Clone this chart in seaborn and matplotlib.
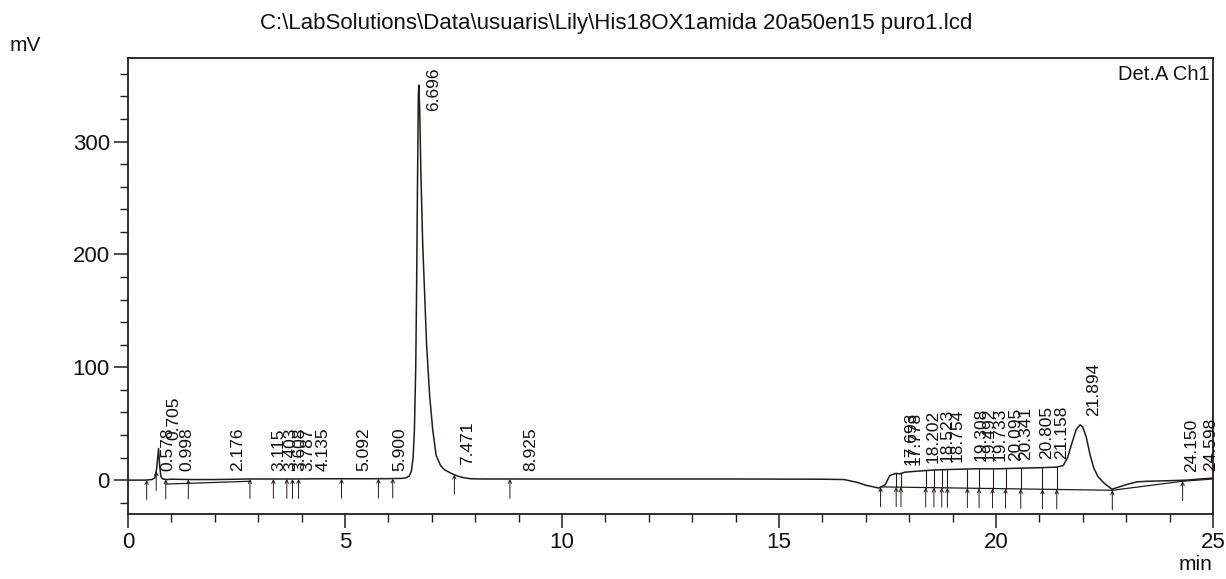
import numpy as np
import pandas as pd
import matplotlib
matplotlib.use("Agg")
import matplotlib.pyplot as plt
from matplotlib.ticker import MultipleLocator
import seaborn as sns

# Detector trace (min, mV)
time_min = [0.0, 0.40, 0.55, 0.62, 0.66, 0.705, 0.73, 0.76, 0.80, 0.90, 1.00, 1.50, 2.00,
            2.80, 3.30, 3.80, 4.50, 5.00, 5.50, 6.00, 6.30, 6.40, 6.48, 6.53, 6.57, 6.60,
            6.63, 6.65, 6.67, 6.69, 6.70, 6.72, 6.75, 6.79, 6.83, 6.88, 6.95, 7.02, 7.10,
            7.20, 7.30, 7.45, 7.60, 7.75, 7.90, 8.20, 9.00, 10.0, 12.0, 14.0, 16.0, 16.5,
            16.8, 17.0, 17.3, 17.45, 17.55, 17.62, 17.70, 17.78, 17.90, 18.2, 18.6, 19.0,
            19.5, 20.0, 20.5, 21.0, 21.4, 21.55, 21.65, 21.75, 21.85, 21.94, 22.0, 22.08,
            22.17, 22.25, 22.35, 22.5, 22.67, 22.8, 23.0, 23.25, 23.5, 24.0, 24.4, 24.7, 25.0]
signal_mv = [0.0, 0.0, 0.5, 2.0, 10.0, 28.0, 12.0, 3.0, 1.0, 0.5, 0.8, 0.5, 0.5,
             1.0, 1.0, 1.0, 1.2, 1.2, 1.2, 1.3, 1.5, 2.0, 3.5, 8.0, 20.0, 45.0,
             100.0, 170.0, 260.0, 340.0, 350.0, 330.0, 270.0, 210.0, 170.0, 120.0, 75.0, 45.0, 22.0,
             13.0, 9.0, 6.0, 3.5, 2.0, 1.2, 1.0, 1.0, 1.0, 1.0, 1.0, 0.8, 0.5,
             -2.0, -4.5, -7.0, -4.0, 4.0, 5.0, 6.0, 5.5, 7.0, 8.0, 9.0, 9.5,
             10.0, 10.0, 10.5, 11.0, 11.5, 13.0, 20.0, 33.0, 45.0, 49.0, 47.0, 38.0,
             22.0, 11.0, 3.0, -3.0, -8.0, -6.5, -4.0, -1.5, -1.0, -0.5, 0.0, 1.0, 1.8]

# Integrated peaks: retention time label and apex height
peak_times = ["0.578", "0.705", "0.998", "2.176", "3.115", "3.403", "3.608", "3.787",
              "4.135", "5.092", "5.900", "6.696", "7.471", "8.925", "17.693", "17.778",
              "18.202", "18.523", "18.754", "19.308", "19.492", "19.733", "20.095",
              "20.341", "20.805", "21.158", "21.894", "24.150", "24.598"]
peak_heights = [1, 28, 1, 1, 1, 1, 1, 1, 1, 1, 1, 350, 6, 1, 6, 6,
                8, 9, 9, 10, 10, 10, 10, 10.5, 11, 11.5, 49, 0, 1]

# Peak start/end markers (min)
boundary_times = [0.43, 0.65, 0.87, 1.39, 2.81, 3.35, 3.66, 3.79, 3.93, 4.92, 5.77, 6.10,
                  7.52, 8.80, 17.34, 17.70, 17.81, 18.38, 18.57, 18.75, 18.88, 19.34,
                  19.61, 19.92, 20.22, 20.57, 21.07, 21.40, 22.68, 24.30]

# Drop lines inside the late cluster (min)
drop_times = [17.70, 17.81, 18.38, 18.57, 18.75, 18.88, 19.34, 19.61, 19.92,
              20.22, 20.57, 21.07, 21.40]

# Integration baseline segments: (t0, y0, t1, y1)
base_t0 = [0.87, 17.34, 22.68, 24.30]
base_y0 = [-3.5, -6.0, -9.0, -1.0]
base_t1 = [2.81, 22.68, 24.30, 25.0]
base_y1 = [-1.0, -9.0, -1.0, 1.0]

TITLE = r"C:\LabSolutions\Data\usuaris\Lily\His18OX1amida 20a50en15 puro1.lcd"

sns.set_style("ticks")
plt.rcParams["font.family"] = ["Liberation Sans", "DejaVu Sans"]

ink = "#231c1c"
fig = plt.figure(figsize=(12.26, 5.79), dpi=100)
ax = fig.add_axes([0.1044, 0.1123, 0.885, 0.7875])

trace = pd.DataFrame({"t": time_min, "mv": signal_mv})
sns.lineplot(data=trace, x="t", y="mv", ax=ax, color=ink, linewidth=1.1)

# integration baselines
for t0, y0, t1, y1 in zip(base_t0, base_y0, base_t1, base_y1):
    ax.plot([t0, t1], [y0, y1], color=ink, linewidth=0.9)

# drop lines from baseline to trace
bt = np.array([base_t0[1], base_t1[1]])
by = np.array([base_y0[1], base_y1[1]])
for t in drop_times:
    ax.plot([t, t], [np.interp(t, bt, by), np.interp(t, time_min, signal_mv)],
            color=ink, linewidth=0.8)

# boundary arrows
for t in boundary_times:
    yb = np.interp(t, time_min, signal_mv)
    if 17.0 < t < 25:
        yb = min(yb, np.interp(t, [17.34, 22.68, 24.30, 25.0], [-6.0, -9.0, -1.0, 1.0]))
    ax.annotate("", xy=(t, yb), xytext=(0, -14), textcoords="offset points",
                xycoords="data",
                arrowprops=dict(arrowstyle="->", color=ink, lw=0.7,
                                shrinkA=0, shrinkB=0, mutation_scale=6))

# retention-time labels
ylim_top = 374
for lab, h in zip(peak_times, peak_heights):
    t = float(lab)
    if h > 330:
        ax.annotate(lab, xy=(t, ylim_top), xytext=(11, -7), textcoords="offset points",
                    rotation=90, ha="center", va="top", fontsize=12.5, color="#111")
    else:
        ax.annotate(lab, xy=(t, h), xytext=(11, 6), textcoords="offset points",
                    rotation=90, ha="center", va="bottom", fontsize=12.5, color="#111")

ax.set_xlim(0, 25)
ax.set_ylim(-30, ylim_top)
ax.xaxis.set_major_locator(MultipleLocator(5))
ax.xaxis.set_minor_locator(MultipleLocator(1))
ax.yaxis.set_major_locator(MultipleLocator(100))
ax.yaxis.set_minor_locator(MultipleLocator(20))
ax.tick_params(axis="both", which="major", direction="out", length=10, width=1.1,
               color=ink, labelsize=16, pad=3, labelcolor="#111")
ax.tick_params(axis="both", which="minor", direction="out", length=6, width=1.0, color=ink)
ax.set_xlabel("")
ax.set_ylabel("")
for s in ax.spines.values():
    s.set_visible(True)
    s.set_color(ink)
    s.set_linewidth(1.3)

fig.text(0.503, 0.960, TITLE, ha="center", va="center", fontsize=16, color="#111")
fig.text(0.008, 0.922, "mV", ha="left", va="center", fontsize=15, color="#111")
fig.text(0.989, 0.025, "min", ha="right", va="center", fontsize=15, color="#111")
ax.text(0.997, 0.985, "Det.A Ch1", transform=ax.transAxes, ha="right", va="top",
        fontsize=14.5, color="#111")

fig.savefig("out.png", dpi=100, facecolor="white")
